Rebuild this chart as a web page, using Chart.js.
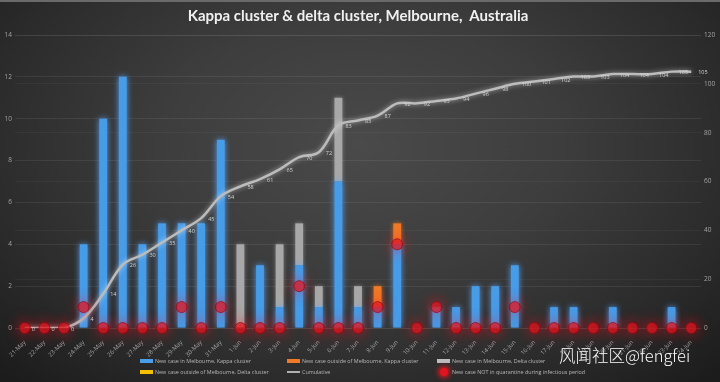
<!DOCTYPE html>
<html><head><meta charset="utf-8">
<script src="https://cdn.jsdelivr.net/npm/chart.js@4/dist/chart.umd.min.js"></script>
<style>
html,body{margin:0;padding:0;}
body{width:720px;height:382px;overflow:hidden;position:relative;
 background:radial-gradient(ellipse 70% 85% at 50% 38%, #4a4a4a 0%, #3d3d3d 40%, #2b2b2b 75%, #1c1c1c 100%);
 font-family:"Open Sans",sans-serif;}
#topline{position:absolute;left:0;top:0;width:720px;height:2px;background:#6a6a6a;}
#wrap{position:absolute;left:0;top:0;width:720px;height:382px;}
#title{position:absolute;top:6px;left:0;width:716px;text-align:center;color:#f0f0f0;font:700 15px Lato,"Open Sans",sans-serif;white-space:pre;}
#legend{position:absolute;left:0;top:0;width:720px;height:382px;pointer-events:none;}
.li{position:absolute;height:10px;color:#b8b8b8;font:5.4px "Open Sans",sans-serif;white-space:nowrap;}
.mk{position:absolute;}
.tx{position:absolute;left:15px;top:0;line-height:10px;}
#wm{position:absolute;left:559px;top:343px;color:#fbfbfb;font:300 16.5px "Noto Sans CJK SC",sans-serif;white-space:nowrap;}
</style></head>
<body>
<div id="topline"></div>
<div id="wrap"><canvas id="c" width="720" height="382"></canvas></div>
<div id="title">Kappa cluster &amp; delta cluster, Melbourne,  Australia</div>
<div id="legend"></div>
<div id="wm">风闻社区@fengfei</div>
<script>
const categories = ['21-May','22-May','23-May','24-May','25-May','26-May','27-May','28-May','29-May','30-May','31-May',
 '1-Jun','2-Jun','3-Jun','4-Jun','5-Jun','6-Jun','7-Jun','8-Jun','9-Jun','10-Jun','11-Jun','12-Jun','13-Jun','14-Jun',
 '15-Jun','16-Jun','17-Jun','18-Jun','19-Jun','20-Jun','21-Jun','22-Jun','23-Jun','24-Jun'];
const kappaMelbourne   = [0,0,0,4,10,12,4,5,5,5,9,0,3,1,3,1,7,1,1,4,0,1,1,2,2,3,0,1,1,0,1,0,0,1,0];
const kappaOutside     = [0,0,0,0,0,0,0,0,0,0,0,0,0,0,0,0,0,0,1,1,0,0,0,0,0,0,0,0,0,0,0,0,0,0,0];
const deltaMelbourne   = [0,0,0,0,0,0,0,0,0,0,0,4,0,3,2,1,4,1,0,0,0,0,0,0,0,0,0,0,0,0,0,0,0,0,0];
const deltaOutside     = [0,0,0,0,0,0,0,0,0,0,0,0,0,0,0,0,0,0,0,0,0,0,0,0,0,0,0,0,0,0,0,0,0,0,0];
const cumulative       = [0,0,0,4,14,26,30,35,40,45,54,58,61,65,70,72,83,85,87,92,92,93,94,96,98,100,101,102,103,103,104,104,104,105,105];
const notInQuarantine  = [0,0,0,1,0,0,0,0,1,0,1,0,0,0,2,0,0,0,1,4,0,1,0,0,0,1,0,0,0,0,0,0,0,0,0];
const leftTicks = {min:0,max:14,step:2};
const rightTicks = {min:0,max:120,step:20};

const glowPlugin = {
  id:'glow',
  beforeDatasetDraw(chart,args){const ds=chart.data.datasets[args.index]; if(ds.glow){chart.ctx.save();chart.ctx.shadowColor=ds.glow.color;chart.ctx.shadowBlur=ds.glow.blur;}},
  afterDatasetDraw(chart,args){const ds=chart.data.datasets[args.index]; if(ds.glow){chart.ctx.restore();}}
};
const cumLabelPlugin = {
  id:'cumLabels',
  afterDatasetsDraw(chart){
    const idx=chart.data.datasets.findIndex(d=>d.isCum);
    const meta=chart.getDatasetMeta(idx); const c=chart.ctx;
    c.save(); c.font='5.5px "Open Sans"'; c.fillStyle='#d6d6d6'; c.textBaseline='middle'; c.textAlign='left';
    meta.data.forEach((p,i)=>c.fillText(String(chart.data.datasets[idx].data[i]),p.x+7,p.y+1));
    c.restore();
  }
};

const barPct=0.4;
const chart = new Chart(document.getElementById('c'),{
  data:{labels:categories,datasets:[
    {type:'bar',label:'New case in Melbourne, Kappa cluster',data:kappaMelbourne,backgroundColor:'#479ce8',yAxisID:'y',stack:'s',order:2,barPercentage:barPct,categoryPercentage:1,glow:{color:'rgba(90,170,255,0.9)',blur:6},legendStyle:{type:'rect',color:'#4a9fea'}},
    {type:'bar',label:'New case outside of Melbourne, Kappa cluster',data:kappaOutside,backgroundColor:'#f07a28',yAxisID:'y',stack:'s',order:3,barPercentage:barPct,categoryPercentage:1,glow:{color:'rgba(255,130,40,0.7)',blur:5},legendStyle:{type:'rect',color:'#f07a28'}},
    {type:'bar',label:'New case in Melbourne, Delta cluster',data:deltaMelbourne,backgroundColor:'#a8a8a8',yAxisID:'y',stack:'s',order:4,barPercentage:barPct,categoryPercentage:1,glow:{color:'rgba(200,200,200,0.5)',blur:4},legendStyle:{type:'rect',color:'#bdbdbd'}},
    {type:'bar',label:'New case outside of Melbourne, Delta cluster',data:deltaOutside,backgroundColor:'#f2c200',yAxisID:'y',stack:'s',order:5,barPercentage:barPct,categoryPercentage:1,legendStyle:{type:'rect',color:'#f2c200'}},
    {type:'line',label:'Cumulative',data:cumulative,yAxisID:'y1',isCum:true,borderColor:'#bcbcbc',borderWidth:2.5,pointRadius:0,tension:0.35,order:1,glow:{color:'rgba(255,255,255,0.55)',blur:5},legendStyle:{type:'line',color:'#b0b0b0'}},
    {type:'line',label:'New case NOT in quarantine during infectious period',data:notInQuarantine,yAxisID:'y',stack:'q',showLine:false,pointRadius:5.5,pointBackgroundColor:'rgba(225,20,30,0.7)',pointBorderColor:'rgba(150,0,10,0.8)',pointBorderWidth:0.8,pointHoverRadius:5.5,order:0,clip:false,glow:{color:'#ff1a28',blur:14},legendStyle:{type:'dot',color:'#e0141e'}}
  ]},
  options:{
    responsive:false,animation:false,
    layout:{padding:{top:35,left:0,right:0,bottom:0}},
    plugins:{legend:{display:false},tooltip:{enabled:false},title:{display:false}},
    scales:{
      x:{stacked:true,offset:true,grid:{display:false},border:{display:false},
         ticks:{color:'#a3a3a3',font:{size:6,family:'"Open Sans"'},minRotation:45,maxRotation:45,autoSkip:false,padding:3},
         afterFit(s){s.height=54;}},
      y:{stacked:true,position:'left',min:leftTicks.min,max:leftTicks.max,
         ticks:{stepSize:leftTicks.step,color:'#a3a3a3',font:{size:6.5,family:'"Open Sans"'},padding:3},
         grid:{color:'rgba(255,255,255,0.075)',drawTicks:false},border:{display:false},
         afterFit(s){s.width=15;}},
      y1:{position:'right',min:rightTicks.min,max:rightTicks.max,
         ticks:{stepSize:rightTicks.step,color:'#a3a3a3',font:{size:6.5,family:'"Open Sans"'},padding:3},
         grid:{color:'rgba(255,255,255,0.045)',drawTicks:false},border:{display:false},
         afterFit(s){s.width=19;}}
    }
  },
  plugins:[glowPlugin,cumLabelPlugin]
});

// HTML legend built from the datasets
const legendPos=[[140,356],[287,356],[437,356],[140,367],[287,367],[437,367]];
const lg=document.getElementById('legend');
chart.data.datasets.forEach((ds,i)=>{
  const [x,y]=legendPos[i];
  const it=document.createElement('div'); it.className='li'; it.style.left=x+'px'; it.style.top=y+'px';
  const mk=document.createElement('div'); mk.className='mk';
  const st=ds.legendStyle;
  if(st.type==='rect'){mk.style.cssText=`left:0;top:3px;width:13px;height:4px;background:${st.color};`;}
  else if(st.type==='line'){mk.style.cssText=`left:0;top:4px;width:13px;height:2px;background:${st.color};`;}
  else {mk.style.cssText=`left:3px;top:1px;width:8px;height:8px;border-radius:50%;background:${st.color};box-shadow:0 0 5px 2px rgba(255,20,30,0.8);`;}
  const tx=document.createElement('div'); tx.className='tx'; tx.textContent=ds.label;
  it.appendChild(mk); it.appendChild(tx); lg.appendChild(it);
});
</script>
</body></html>
